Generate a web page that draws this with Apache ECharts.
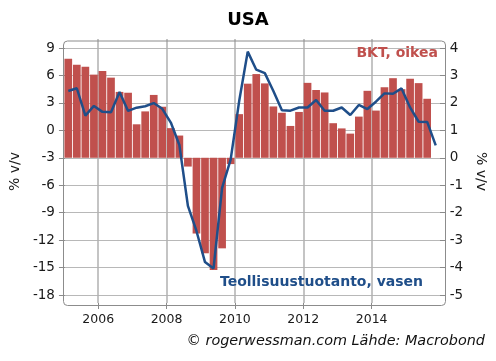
<!DOCTYPE html>
<html>
<head>
<meta charset="utf-8">
<script src="https://cdn.jsdelivr.net/npm/echarts@6/dist/echarts.min.js"></script>
<style>html,body{margin:0;padding:0;background:#fff;}#c{width:496px;height:361px;}</style>
</head>
<body>
<div id="c"></div>
<script>
// Quarterly categories 2005Q1 .. 2015Q4
var startYear = 2005, endYear = 2015;
var quarters = [];
for (var y = startYear; y <= endYear; y++) { for (var q = 1; q <= 4; q++) quarters.push(y + 'Q' + q); }

// BKT (GDP) y/y %, right axis, 2005Q1 .. 2015Q3
var gdp = [3.61, 3.39, 3.32, 3.03, 3.16, 2.92, 2.4, 2.37, 1.22, 1.69,
           2.29, 1.86, 1.08, 0.81, -0.32, -2.76, -3.48, -4.09, -3.3, -0.23,
           1.59, 2.7, 3.05, 2.71, 1.87, 1.64, 1.16, 1.67, 2.73, 2.47,
           2.38, 1.26, 1.07, 0.88, 1.5, 2.44, 1.72, 2.57, 2.9, 2.5,
           2.88, 2.72, 2.15];

// Teollisuustuotanto (industrial production) y/y %, left axis, 2005Q1 .. 2015Q4
var indProd = [4.3, 4.6, 1.6, 2.67, 2.02, 1.97, 4.2, 2.12, 2.48, 2.63,
               2.98, 2.35, 0.85, -1.6, -8.25, -11.0, -14.4, -15.1, -6.3, -3.2,
               3.2, 8.6, 6.63, 6.25, 4.3, 2.2, 2.15, 2.5, 2.49, 3.32,
               2.15, 2.14, 2.5, 1.67, 2.77, 2.33, 3.13, 4.04, 4.0, 4.58,
               2.5, 0.94, 0.92, -1.65];

// Year ticks (every second year)
var yearTicks = { min: 2006, max: 2014, step: 2 };
var leftTicks = { min: -18, max: 9, step: 3 };
var rightTicks = { min: -5, max: 4, step: 1 };

var FONT = 'DejaVu Sans';
var gridColor = '#b8b8b8';
var vGridColor = '#b0b0b0';
var tickColor = '#8a8a8a';
var textColor = '#1a1a1a';

// plot data area spans 2005.0 .. 2016.0 horizontally
var plotLeft = 64, plotRight = 440, W = 496;
var pxPerYear = (plotRight - plotLeft) / (endYear + 1 - startYear);
var yrLeft = plotLeft + (yearTicks.min - startYear) * pxPerYear;
var yrRight = plotLeft + (yearTicks.max - startYear) * pxPerYear;
var frameTop = 38.5, frameBottom = 303;

var chart = echarts.init(document.getElementById('c'), null, { renderer: 'canvas' });
chart.setOption({
  animation: false,
  backgroundColor: '#ffffff',
  title: {
    text: 'USA', left: 'center', top: 6,
    textStyle: { fontFamily: FONT, fontSize: 18, fontWeight: 'bold', color: '#000' }
  },
  grid: [
    { left: 61, right: 53, top: 48, bottom: 66 },
    { left: plotLeft, right: W - plotRight, top: 48, bottom: 66 },
    { left: yrLeft, right: W - yrRight, top: 39, bottom: 58 }
  ],
  xAxis: [
    { gridIndex: 0, type: 'value', min: 0, max: 1, show: false },
    { gridIndex: 1, type: 'category', data: quarters, boundaryGap: true, show: false },
    { gridIndex: 2, type: 'value', min: yearTicks.min, max: yearTicks.max, interval: yearTicks.step, position: 'bottom',
      z: 0,
      axisLine: { show: false },
      axisTick: { show: true, length: 6, lineStyle: { color: tickColor } },
      splitLine: { show: true, showMinLine: true, showMaxLine: true, lineStyle: { color: vGridColor, width: 1.5 } },
      axisLabel: { margin: 10, fontFamily: FONT, fontSize: 12.5, color: textColor,
        formatter: function (v) { return String(v); } } }
  ],
  yAxis: [
    { gridIndex: 0, type: 'value', min: leftTicks.min, max: leftTicks.max, interval: leftTicks.step, position: 'left',
      axisLine: { show: false },
      axisTick: { show: true, length: 6, lineStyle: { color: tickColor } },
      axisLabel: { margin: 10, fontFamily: FONT, fontSize: 13.5, color: textColor },
      splitLine: { show: true, lineStyle: { color: gridColor, width: 1 } },
      name: '% v/v', nameLocation: 'middle', nameGap: 37, nameRotate: 90,
      nameTextStyle: { fontFamily: FONT, fontSize: 14, color: textColor } },
    { gridIndex: 0, type: 'value', min: rightTicks.min, max: rightTicks.max, interval: rightTicks.step, position: 'right',
      axisLine: { show: false },
      axisTick: { show: true, length: 6, lineStyle: { color: tickColor } },
      axisLabel: { margin: 10, fontFamily: FONT, fontSize: 13.5, color: textColor },
      splitLine: { show: false },
      name: '% v/v', nameLocation: 'middle', nameGap: 27, nameRotate: -90,
      nameTextStyle: { fontFamily: FONT, fontSize: 14, color: textColor } },
    { gridIndex: 1, type: 'value', min: leftTicks.min, max: leftTicks.max, show: false },
    { gridIndex: 1, type: 'value', min: rightTicks.min, max: rightTicks.max, show: false },
    { gridIndex: 2, type: 'value', min: 0, max: 1, show: false }
  ],
  graphic: [
    { type: 'rect', left: 61, top: frameTop, z: 1, silent: true,
      shape: { width: 382, height: frameBottom - frameTop, r: 4 },
      style: { fill: 'none', stroke: '#8c8c8c', lineWidth: 1 } },
    { type: 'text', right: 58, top: 46, z: 10,
      style: { text: 'BKT, oikea', fill: '#c0504d', font: 'bold 14px "DejaVu Sans"' } },
    { type: 'text', right: 73, top: 275, z: 10,
      style: { text: 'Teollisuustuotanto, vasen', fill: '#1f4e89', font: 'bold 14px "DejaVu Sans"' } },
    { type: 'text', right: 11, top: 334, z: 10,
      style: { text: '© rogerwessman.com Lähde: Macrobond', fill: '#111', font: 'italic 14.4px "DejaVu Sans"' } }
  ],
  series: [
    { name: 'BKT, oikea', type: 'bar', xAxisIndex: 1, yAxisIndex: 3, data: gdp,
      barCategoryGap: '10%', z: 2,
      itemStyle: { color: '#c0504d' } },
    { name: 'Teollisuustuotanto, vasen', type: 'line', xAxisIndex: 1, yAxisIndex: 2, data: indProd,
      symbol: 'none', z: 5,
      lineStyle: { color: '#1f4e89', width: 2.5 } }
  ]
});
</script>
</body>
</html>
